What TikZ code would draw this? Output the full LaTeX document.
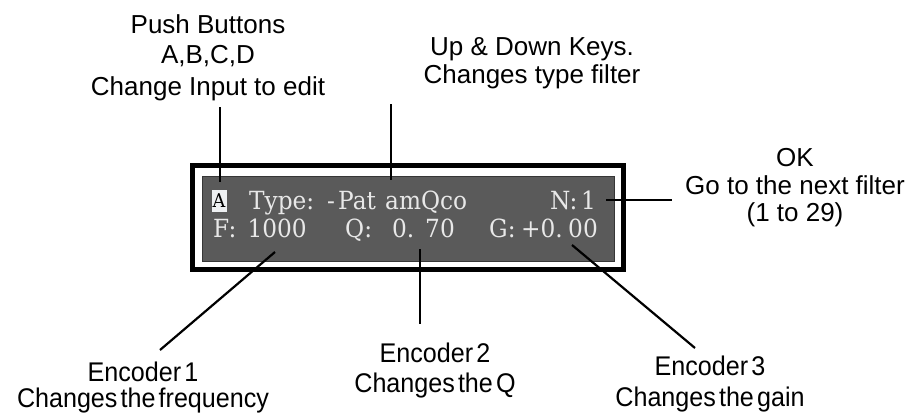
\documentclass[tikz,border=0pt]{standalone}
\usepackage{fontspec}
\setmainfont{Liberation Sans}
\newfontfamily\lcdfont[FakeStretch=0.93]{DejaVu Serif}
\newfontfamily\encfont[FakeStretch=0.93, WordSpace=0.45]{Liberation Sans}

\definecolor{panelgray}{HTML}{5A5A5A}
\definecolor{paneledge}{HTML}{363636}
\definecolor{lcdtext}{HTML}{E8E8E8}
\definecolor{btnfill}{HTML}{EEF0F2}

\begin{document}
\begin{tikzpicture}[x=1pt,y=-1pt,
  label/.style={font=\fontsize{26}{30}\selectfont, inner sep=0pt, anchor=base},
  enclabel/.style={label, font=\encfont\fontsize{27}{30}\selectfont},
  lcd/.style={font=\lcdfont\fontsize{25}{28}\selectfont, text=lcdtext, inner sep=0pt, anchor=base west},
  lcdr/.style={lcd, anchor=base east},
  lead/.style={line width=2.8pt},
  slant/.style={line width=2.2pt}]
\useasboundingbox (0,0) rectangle (911,418);

% display housing and screen
\draw[line width=5pt] (192.5,165.5) rectangle (623.5,269.5);
\draw[fill=panelgray, draw=paneledge, line width=1pt] (202,176) rectangle (614,261);

% screen contents, row 1
\node (abtn) [fill=btnfill, minimum width=15pt, minimum height=22pt, inner sep=0pt,
  font=\lcdfont\fontsize{19}{19}\selectfont, text=black] at (219,200.5) {A};
\node[lcd] (type) at (249,209.5) {Type:};
\node[lcd] (dash) at (327,209.5) {-};
\node[lcd] (pat) at (338,209.5) {Pat};
\node[lcd] (amqco) at (385,209.5) {amQco};
\node[lcd] (nlab) at (550,209.5) {N:};
\node[lcdr] (nval) at (596,209.5) {1};

% screen contents, row 2
\node[lcd] (flab) at (213,237.5) {F:};
\node[lcdr] (fval) at (307,237.5) {1000};
\node[lcd] (qlab) at (345,237.5) {Q:};
\node[lcd] (qint) at (392,237.5) {0.};
\node[lcdr] (qdec) at (455,237.5) {70};
\node[lcd] (glab) at (489,237.5) {G:};
\node[lcd] (gint) at (521,237.5) {+0.};
\node[lcdr] (gdec) at (598,237.5) {00};

% labels
\node[label] (push1) at (208,33) {Push Buttons};
\node[label] (push2) at (208,63) {A,B,C,D};
\node[label] (push3) at (208,95) {Change Input to edit};
\node[label] (updown1) at (532,55) {Up \& Down Keys.};
\node[label] (updown2) at (532,83) {Changes type filter};
\node[label] (ok1) at (795,166) {OK};
\node[label] (ok2) at (795,194) {Go to the next filter};
\node[label] (ok3) at (795,221) {(1 to 29)};
\node[enclabel] (enc1a) at (143,381) {Encoder 1};
\node[enclabel] (enc1b) at (143,407) {Changes the frequency};
\node[enclabel] (enc2a) at (435,362) {Encoder 2};
\node[enclabel] (enc2b) at (435,392) {Changes the Q};
\node[enclabel] (enc3a) at (710,375) {Encoder 3};
\node[enclabel] (enc3b) at (710,406) {Changes the gain};

% leader line end points
\coordinate (pushtop) at (220,107);
\coordinate (pushend) at (220,182);
\coordinate (uptop) at (391,104);
\coordinate (upend) at (391,180);
\coordinate (okin) at (606,200);
\coordinate (okout) at (672,200);
\coordinate (e1in) at (275,252);
\coordinate (e1out) at (160,350);
\coordinate (e2in) at (420,249);
\coordinate (e2out) at (420,324);
\coordinate (e3in) at (572,245);
\coordinate (e3out) at (695,348);

% leader lines
\draw[lead] (pushtop) -- (pushend);
\draw[lead] (uptop) -- (upend);
\draw[lead] (okin) -- (okout);
\draw[slant] (e1in) -- (e1out);
\draw[lead] (e2in) -- (e2out);
\draw[slant] (e3in) -- (e3out);
\end{tikzpicture}
\end{document}
